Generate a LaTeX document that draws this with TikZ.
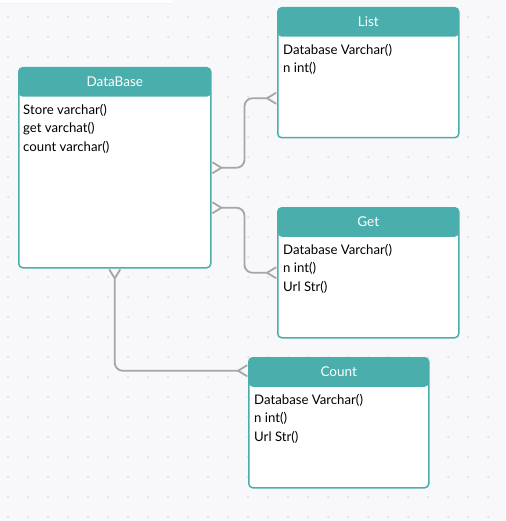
\documentclass[tikz,border=0pt]{standalone}
\usepackage{fontspec}
\setmainfont{Lato}
\usetikzlibrary{arrows.meta}
\definecolor{hdr}{HTML}{4AAFAC}
\definecolor{canvas}{HTML}{F8F8FA}
\definecolor{griddot}{HTML}{D9D9DE}
\definecolor{linkgray}{HTML}{A6A6A6}
\tikzset{
  entity/.style={draw=hdr, line width=1.5pt, fill=white, rounded corners=4pt,
    inner sep=0pt, anchor=north west,
    path picture={\fill[hdr] (path picture bounding box.north west)
      rectangle ([yshift=-29pt]path picture bounding box.north east);}},
  title/.style={text=white, font=\fontsize{13.5}{15}\selectfont},
  body/.style={anchor=north west, align=left, inner sep=0pt,
    font=\fontsize{13.2}{18.5}\selectfont},
  crow/.tip={Straight Barb[reversed, length=9pt, width=11pt]},
  link/.style={draw=linkgray, line width=1.8pt, rounded corners=8pt, crow-crow}
}
\begin{document}
\begin{tikzpicture}[x=1pt,y=-1pt]
\useasboundingbox (0,0) rectangle (505,521);
% canvas with dot grid
\fill[canvas] (0,0) rectangle (505,521);
\fill[white] (0,0) rectangle (172,3);
\draw[black!6, line width=1pt] (0,3.5) -- (172,3.5);
\foreach \x in {8,28,...,508}
  \foreach \y in {17,37,...,517}
    \fill[griddot] (\x,\y) circle (1pt);

% tables
\node[entity, minimum width=192pt, minimum height=200pt] (db) at (18,67) {};
\node[title] (dbtitle) at ([yshift=-14.5pt]db.north) {DataBase};
\node[body] (dbbody) at ([xshift=5pt,yshift=-37pt]db.north west)
  {Store varchar()\\get varchat()\\count varchar()};

\node[entity, minimum width=181pt, minimum height=130pt] (list) at (277,7) {};
\node[title] (listtitle) at ([yshift=-14.5pt]list.north) {List};
\node[body] (listbody) at ([xshift=6pt,yshift=-37pt]list.north west)
  {Database Varchar()\\n int()};

\node[entity, minimum width=181pt, minimum height=130pt] (get) at (277,207) {};
\node[title] (gettitle) at ([yshift=-14.5pt]get.north) {Get};
\node[body] (getbody) at ([xshift=6pt,yshift=-37pt]get.north west)
  {Database Varchar()\\n int()\\Url Str()};

\node[entity, minimum width=180pt, minimum height=130pt] (count) at (248,357) {};
\node[title] (counttitle) at ([yshift=-14.5pt]count.north) {Count};
\node[body] (countbody) at ([xshift=6pt,yshift=-37pt]count.north west)
  {Database Varchar()\\n int()\\Url Str()};

% relations
\draw[link] (db.east) -- ++(33,0) |- ([yshift=-25.5pt]list.west);
\draw[link] ([yshift=-40pt]db.east) -- ++(33,0) |- (get.west);
\draw[link] (db.south) |- ([yshift=52pt]count.west);
\end{tikzpicture}
\end{document}
